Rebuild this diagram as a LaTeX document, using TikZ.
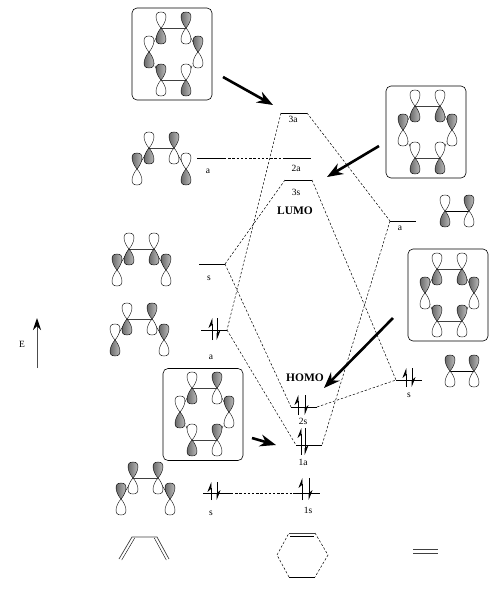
\documentclass[tikz,border=0pt]{standalone}
\usepackage{fontspec}
\setmainfont{Liberation Serif}
\usetikzlibrary{arrows.meta,positioning}
% one p orbital: centre, then u or d for the shaded lobe
\newcommand{\lobe}[1]{(0,0) .. controls (-4.5,#1*0.3) and (-8.5,#1*1.02) .. (0,#1) .. controls (8.5,#1*1.02) and (4.5,#1*0.3) .. (0,0) -- cycle}
\newcommand{\porb}[2]{%
  \begin{scope}[shift={(#1)}]
    \if#2u
      \path[lobeon] \lobe{-16}; \path[lobeoff] \lobe{16};
    \else
      \path[lobeoff] \lobe{-16}; \path[lobeon] \lobe{16};
    \fi
  \end{scope}}
% six p orbitals of a boxed ring, shifted to the corner of its box
\newcommand{\ringorb}[7]{%
  \begin{scope}[shift={(#1)}]
    \draw[bond] (29,20)--(54,20);
    \draw[bond] (29,72)--(54,72);
    \draw[thin] (29,20)--(17,44);
    \draw[thin] (54,20)--(66,44);
    \draw[thin,densely dashed] (17,44)--(29,72);
    \draw[thin,densely dashed] (66,44)--(54,72);
    \porb{29,20}{#2}\porb{54,20}{#3}
    \porb{17,44}{#4}\porb{66,44}{#5}
    \porb{29,72}{#6}\porb{54,72}{#7}
  \end{scope}}
% four p orbitals of the open chain: inner left corner, then fills
\newcommand{\chainorb}[5]{%
  \begin{scope}[shift={(#1)}]
    \draw[bond] (0,0)--(25,0);
    \draw[thin] (0,0)--(-12,21);
    \draw[thin] (25,0)--(37,21);
    \porb{0,0}{#2}\porb{25,0}{#3}
    \porb{-12,21}{#4}\porb{37,21}{#5}
  \end{scope}}
\newcommand{\spinpair}[4]{%
  \draw[spin] (#1,#4)--(#1,#3);
  \draw[spin] (#2,#3)--(#2,#4);}

\begin{document}
\begin{tikzpicture}[x=1pt,y=-1pt,
  lobeon/.style={draw=black,line width=0.4pt,left color=black!70,right color=black!15},
  lobeoff/.style={draw=black,line width=0.4pt,fill=white},
  bond/.style={line width=0.7pt,black!75},
  thin/.style={line width=0.4pt},
  orbbox/.style={draw,rounded corners=5pt,line width=0.6pt,minimum width=80pt,minimum height=92pt,inner sep=0},
  level/.style={line width=0.7pt},
  corr/.style={line width=0.5pt,dash pattern=on 2.4pt off 1.8pt},
  spin/.style={-{Stealth[harpoon,length=9pt,width=7pt]},line width=0.7pt},
  bigarr/.style={-{Stealth[length=16pt,width=12pt]},line width=2.6pt},
  lab/.style={font=\fontsize{9.5}{11}\selectfont,inner sep=0},
  mo/.style={font=\fontsize{11.5}{13}\selectfont\bfseries,inner sep=0}]
\useasboundingbox (0,0) rectangle (493,590);

% ---- boxed ring orbitals
\node[orbbox] (box3a) at (172,54) {};
\node[orbbox] (box2a) at (426,132) {};
\node[orbbox] (box2s) at (448,295) {};
\node[orbbox] (box1a) at (203,414.5) {};
\ringorb{132,8}{d}{u}{d}{u}{u}{d}
\ringorb{386,86}{d}{d}{u}{u}{d}{d}
\ringorb{408,249}{d}{d}{u}{u}{u}{u}
\ringorb{163,368}{d}{u}{d}{u}{d}{u}

% ---- fragment orbitals
\chainorb{149,148}{d}{u}{u}{d}
\chainorb{129,249}{d}{d}{u}{u}
\chainorb{127,319}{d}{u}{d}{u}
\chainorb{133,478}{u}{u}{u}{u}
\draw[thin] (445,211)--(469,211);
\porb{445,211}{d}\porb{469,211}{u}
\draw[thin] (450,371)--(474,371);
\porb{450,371}{u}\porb{474,371}{u}

% ---- levels
\coordinate (p3aL) at (281,113);  \coordinate (p3aR) at (307,113);
\coordinate (p2aL) at (283,158);  \coordinate (p2aR) at (311,158);
\coordinate (p3sL) at (285,180);  \coordinate (p3sR) at (312,180);
\coordinate (p2sL) at (291,407);  \coordinate (p2sR) at (317,407);
\coordinate (p1aL) at (296,445);  \coordinate (p1aR) at (322,445);
\coordinate (p1sL) at (293,493);  \coordinate (p1sR) at (320,493);
\coordinate (dbaL) at (197,158);  \coordinate (dbaR) at (224,158);
\coordinate (dbsL) at (199,264);  \coordinate (dbsR) at (225,264);
\coordinate (daaL) at (201,330);  \coordinate (daaR) at (227,330);
\coordinate (dasL) at (203,493);  \coordinate (dasR) at (231,493);
\coordinate (enaL) at (390,221);  \coordinate (enaR) at (416,221);
\coordinate (ensL) at (396,380);  \coordinate (ensR) at (422,380);
\foreach \lv in {p3a,p2a,p3s,p2s,p1a,p1s,dba,dbs,daa,das,ena,ens}
  \draw[level] (\lv L)--(\lv R);

% ---- correlation lines
\draw[corr] (p3aL)--(daaR);
\draw[corr] (p3aR)--(enaL);
\draw[corr] (dbaR)--(p2aL);
\draw[corr] (p3sL)--(dbsR);
\draw[corr] (p3sR)--(ensL);
\draw[corr] (enaL)--(p1aR);
\draw[corr] (dbsR)--(p2sL);
\draw[corr] (daaR)--(p1aL);
\draw[corr] (p2sR)--(ensL);
\draw[corr] (dasR)--(p1sL);

% ---- electrons
\spinpair{212}{217}{318}{340}
\spinpair{406}{412}{368}{387}
\spinpair{298}{305}{395}{415}
\spinpair{301}{305}{428}{455}
\spinpair{211}{217}{482}{500}
\spinpair{302}{309}{478}{500}

% ---- labels
\node[lab] (t3a) at (293,119) {3a};
\node[lab] (t2a) at (296,168) {2a};
\node[lab] (t3s) at (296,192) {3s};
\node[mo]  (lumo) at (295,211) {LUMO};
\node[mo]  (homo) at (305,378) {HOMO};
\node[lab] (t2s) at (303,421) {2s};
\node[lab] (t1a) at (303,462) {1a};
\node[lab] (t1s) at (308,510) {1s};
\node[lab] (tdba) at (208,171) {a};
\node[lab] (tdbs) at (209,278) {s};
\node[lab] (tdaa) at (211,357) {a};
\node[lab] (tdas) at (211,513) {s};
\node[lab] (tena) at (400,228) {a};
\node[lab] (tens) at (409,395) {s};

% ---- pointers to the levels
\coordinate (f3a) at (223,77);   \coordinate (g3a) at (273,105);
\coordinate (f2a) at (379,146);  \coordinate (g2a) at (327,177);
\coordinate (f2s) at (393,318);  \coordinate (g2s) at (324,388);
\coordinate (f1a) at (252,438);  \coordinate (g1a) at (276,445);
\draw[bigarr] (f3a)--(g3a);
\draw[bigarr] (f2a)--(g2a);
\draw[bigarr] (f2s)--(g2s);
\draw[bigarr] (f1a)--(g1a);

% ---- energy axis
\coordinate (e0) at (37,368);
\coordinate (e1) at (37,318);
\draw[-{Stealth[length=12pt,width=8pt,black]},line width=0.9pt,black!70] (e0)--(e1);
\node[lab] (tE) at (22,344) {E};

% ---- skeletons
\coordinate (b1) at (119,559); \coordinate (b2) at (132,537);
\coordinate (b3) at (157,537); \coordinate (b4) at (169,559);
\draw[bond] (b1)--(b2)--(b3)--(b4);
\draw[thin] ([xshift=2.7pt,yshift=-1pt]b1)--([xshift=2.7pt,yshift=-1pt]b2);
\draw[thin] ([xshift=-2.7pt,yshift=-1pt]b3)--([xshift=-2.7pt,yshift=-1pt]b4);

\coordinate (h1) at (289,533); \coordinate (h2) at (315,533);
\coordinate (h3) at (328,555); \coordinate (h4) at (315,577);
\coordinate (h5) at (289,577); \coordinate (h6) at (277,555);
\draw[bond] (h1)--(h2);
\draw[thin] ([xshift=1pt,yshift=-3pt]h1)--([xshift=-1pt,yshift=-3pt]h2);
\draw[corr] (h2)--(h3)--(h4);
\draw[thin] (h4)--(h5);
\draw[corr] (h5)--(h6)--(h1);

\coordinate (c1) at (413,549); \coordinate (c2) at (438,549);
\draw[bond] (c1)--(c2);
\draw[bond] ([yshift=-4pt]c1)--([yshift=-4pt]c2);
\end{tikzpicture}
\end{document}
